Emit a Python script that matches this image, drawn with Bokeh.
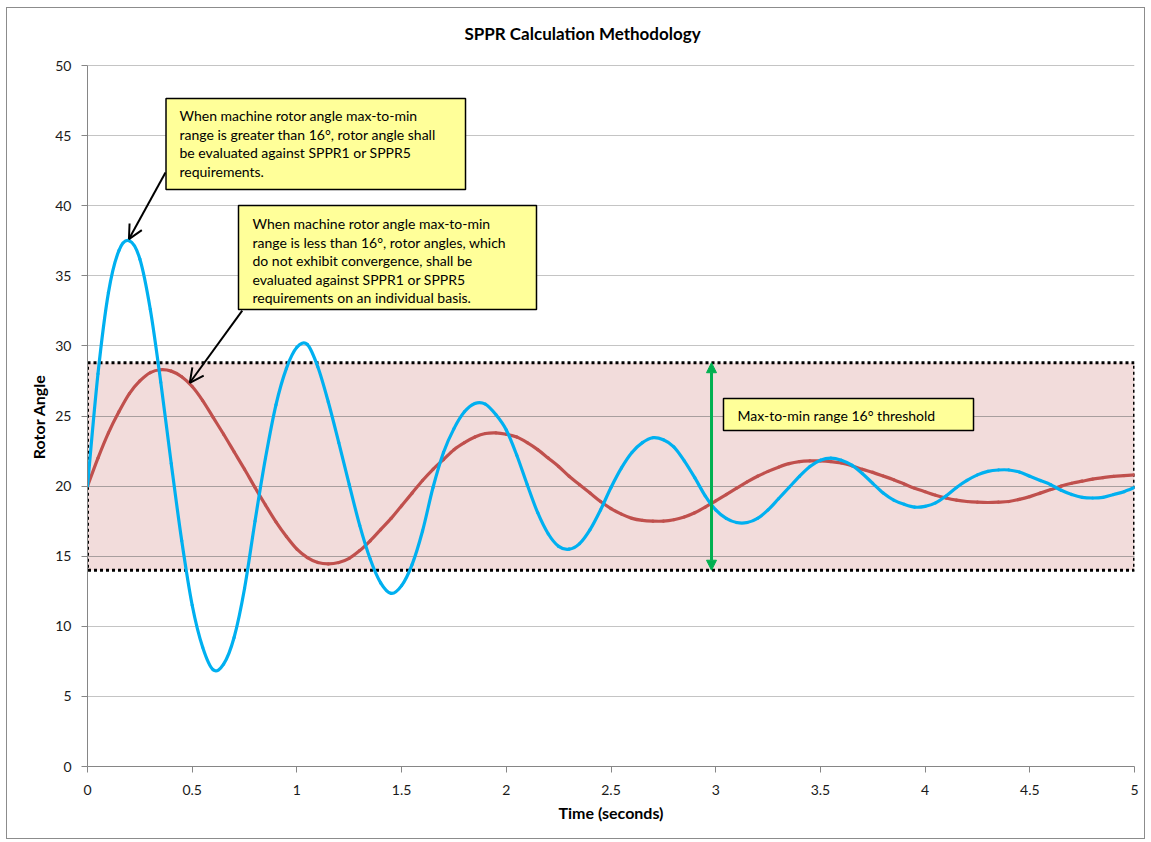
from bokeh.plotting import figure
from bokeh.models import Range1d, Label, Arrow, OpenHead, NormalHead, FixedTicker, BoxAnnotation
from bokeh.embed import file_html
from bokeh.resources import INLINE

# ---------------- data ----------------
time_s = [0.0, 0.05, 0.1, 0.15, 0.2, 0.25, 0.3, 0.35, 0.4, 0.45,
          0.5, 0.55, 0.6, 0.65, 0.7, 0.75, 0.8, 0.85, 0.9, 0.95,
          1.0, 1.05, 1.1, 1.15, 1.2, 1.25, 1.3, 1.35, 1.4, 1.45,
          1.5, 1.55, 1.6, 1.65, 1.7, 1.75, 1.8, 1.85, 1.9, 1.95,
          2.0, 2.05, 2.1, 2.15, 2.2, 2.25, 2.3, 2.35, 2.4, 2.45,
          2.5, 2.55, 2.6, 2.65, 2.7, 2.75, 2.8, 2.85, 2.9, 2.95,
          3.0, 3.05, 3.1, 3.15, 3.2, 3.25, 3.3, 3.35, 3.4, 3.45,
          3.5, 3.55, 3.6, 3.65, 3.7, 3.75, 3.8, 3.85, 3.9, 3.95,
          4.0, 4.05, 4.1, 4.15, 4.2, 4.25, 4.3, 4.35, 4.4, 4.45,
          4.5, 4.55, 4.6, 4.65, 4.7, 4.75, 4.8, 4.85, 4.9, 4.95,
          5.0]

angle_blue = [20.0, 28.0, 33.8, 36.8, 37.5, 36.2, 32.6, 27.4, 21.6, 16.1,
              11.5, 8.5, 6.9, 7.3, 9.2, 12.7, 17.5, 22.0, 25.8, 28.4,
              29.9, 30.1, 28.5, 26.0, 23.1, 20.1, 17.2, 14.8, 13.1, 12.35,
              12.9, 14.4, 16.8, 19.9, 22.4, 24.1, 25.3, 25.9, 25.85, 25.1,
              24.0, 22.2, 20.1, 18.1, 16.6, 15.7, 15.5, 15.9, 16.9, 18.3,
              19.9, 21.3, 22.4, 23.1, 23.45, 23.3, 22.8, 21.8, 20.6, 19.3,
              18.3, 17.7, 17.4, 17.4, 17.7, 18.3, 19.1, 19.9, 20.7, 21.4,
              21.85, 22.0, 21.85, 21.5, 20.9, 20.2, 19.5, 19.0, 18.7, 18.5,
              18.55, 18.8, 19.3, 19.9, 20.4, 20.8, 21.05, 21.15, 21.15, 21.0,
              20.7, 20.4, 20.1, 19.7, 19.4, 19.2, 19.15, 19.2, 19.4, 19.6,
              19.9]

angle_red = [20.0, 22.0, 23.8, 25.3, 26.6, 27.5, 28.1, 28.3, 28.2, 27.8,
             27.1, 26.1, 24.9, 23.7, 22.45, 21.2, 19.9, 18.65, 17.45, 16.4,
             15.5, 14.9, 14.55, 14.45, 14.55, 14.85, 15.4, 16.1, 16.9, 17.7,
             18.6, 19.5, 20.4, 21.2, 21.9, 22.6, 23.1, 23.5, 23.75, 23.8,
             23.7, 23.5, 23.1, 22.6, 22.0, 21.4, 20.7, 20.1, 19.5, 18.9,
             18.4, 18.0, 17.7, 17.55, 17.5, 17.5, 17.6, 17.8, 18.1, 18.5,
             18.95, 19.4, 19.85, 20.3, 20.7, 21.05, 21.35, 21.6, 21.75, 21.8,
             21.8, 21.75, 21.65, 21.45, 21.2, 20.98, 20.72, 20.45, 20.15, 19.85,
             19.6, 19.35, 19.15, 19.0, 18.9, 18.85, 18.83, 18.85, 18.9, 19.05,
             19.25, 19.5, 19.75, 20.0, 20.2, 20.35, 20.5, 20.6, 20.7, 20.75,
             20.8]

band_low = 14.0
band_high = 28.8
band_start = 0.0
band_end = 5.0
threshold_time = 2.98

x_ticks = [0, 0.5, 1, 1.5, 2, 2.5, 3, 3.5, 4, 4.5, 5]
x_tick_labels = ["0", "0.5", "1", "1.5", "2", "2.5", "3", "3.5", "4", "4.5", "5"]
y_ticks = [0, 5, 10, 15, 20, 25, 30, 35, 40, 45, 50]
y_tick_labels = ["0", "5", "10", "15", "20", "25", "30", "35", "40", "45", "50"]
y_axis_max = 50

title_text = "SPPR Calculation Methodology"
x_label = "Time (seconds)"
y_label = "Rotor Angle"
note1_lines = ["When machine rotor angle max-to-min",
               "range is greater than 16\u00b0, rotor angle shall",
               "be evaluated against SPPR1 or SPPR5",
               "requirements."]
note2_lines = ["When machine rotor angle max-to-min",
               "range is less than 16\u00b0, rotor angles, which",
               "do not exhibit  convergence, shall be",
               "evaluated against SPPR1 or SPPR5",
               "requirements on an individual basis."]
note3_text = "Max-to-min range 16\u00b0 threshold"

# ---------------- styling ----------------
FONT = "Lato"
BLUE = "#00b0f0"
RED = "#c0504d"
GREEN = "#00b050"
YELLOW = "#ffff99"
BAND = "#f2dcdb"

# the visible axis runs 0..50; the range extends above it to leave room for the title
view_top = y_axis_max * 750.0 / 701.0

p = figure(width=1139, height=832, x_range=Range1d(0, 5), y_range=Range1d(0, view_top),
           output_backend="svg", toolbar_location=None,
           min_border_left=80, min_border_right=12, min_border_top=8, min_border_bottom=74)
p.styles = {"border": "1px solid #8c8c8c", "margin-left": "6px", "margin-top": "7px"}
p.outline_line_color = None
p.background_fill_color = "white"
p.border_fill_color = "white"

for ax in (p.xaxis[0], p.yaxis[0]):
    ax.axis_line_color = "#868686"
    ax.major_tick_line_color = "#868686"
    ax.major_tick_in = 0
    ax.major_tick_out = 6
    ax.minor_tick_line_color = None
    ax.major_label_text_font = FONT
    ax.major_label_text_font_size = "14px"
    ax.major_label_text_color = "#1a1a1a"
    ax.axis_label_text_font = FONT
    ax.axis_label_text_font_size = "16px"
    ax.axis_label_text_font_style = "bold"
    ax.axis_label_text_color = "black"

p.xaxis.ticker = FixedTicker(ticks=x_ticks)
p.xaxis.major_label_overrides = {t: s for t, s in zip(x_ticks, x_tick_labels)}
p.yaxis.ticker = FixedTicker(ticks=y_ticks)
p.yaxis.major_label_overrides = {t: s for t, s in zip(y_ticks, y_tick_labels)}
p.yaxis.bounds = (0, y_axis_max)
p.xaxis.axis_label = x_label
# trailing no-break spaces re-centre the rotated label on the 0..50 part of the axis
p.yaxis.axis_label = y_label + "\u00a0" * 13
p.xaxis.major_label_standoff = 12
p.yaxis.major_label_standoff = 10
p.xaxis.axis_label_standoff = 5
p.yaxis.axis_label_standoff = 4

p.xgrid.visible = False
p.ygrid.ticker = FixedTicker(ticks=y_ticks)
p.ygrid.grid_line_color = "#c4c4c4"
p.ygrid.grid_line_width = 1

# threshold band
p.quad(left=[band_start], right=[band_end], bottom=[band_low], top=[band_high],
       fill_color=BAND, line_color=None)
inner_grid = [v for v in y_ticks if band_low < v < band_high]
p.hspan(y=inner_grid, line_color="#a89e9e", line_width=1)
p.quad(left=[band_start], right=[band_end], bottom=[band_low], top=[band_high],
       fill_color=None, line_color="black", line_width=3, line_dash="3 3")


# series, drawn as smoothed lines (like Excel's "smoothed line" option):
# cubic Bezier pieces through the read points, control points from neighbours.
def smooth_segments(xs, ys):
    n = len(xs)
    seg = {k: [] for k in ("x0", "y0", "x1", "y1", "cx0", "cy0", "cx1", "cy1")}
    for i in range(n - 1):
        xm, ym = (xs[i - 1], ys[i - 1]) if i > 0 else (xs[i], ys[i])
        xp, yp = (xs[i + 2], ys[i + 2]) if i + 2 < n else (xs[i + 1], ys[i + 1])
        seg["x0"].append(xs[i]); seg["y0"].append(ys[i])
        seg["x1"].append(xs[i + 1]); seg["y1"].append(ys[i + 1])
        seg["cx0"].append(xs[i] + (xs[i + 1] - xm) / 6.0)
        seg["cy0"].append(ys[i] + (ys[i + 1] - ym) / 6.0)
        seg["cx1"].append(xs[i + 1] - (xp - xs[i]) / 6.0)
        seg["cy1"].append(ys[i + 1] - (yp - ys[i]) / 6.0)
    return seg


for series, color in ((angle_red, RED), (angle_blue, BLUE)):
    s = smooth_segments(time_s, series)
    p.bezier(x0=s["x0"], y0=s["y0"], x1=s["x1"], y1=s["y1"],
             cx0=s["cx0"], cy0=s["cy0"], cx1=s["cx1"], cy1=s["cy1"],
             line_color=color, line_width=3.2, line_cap="round")

# green double arrow (threshold range)
p.add_layout(Arrow(x_start=threshold_time, y_start=band_low, x_end=threshold_time, y_end=band_high,
                   line_color=GREEN, line_width=3,
                   start=NormalHead(size=10, fill_color=GREEN, line_color=GREEN),
                   end=NormalHead(size=10, fill_color=GREEN, line_color=GREEN)))

# callout arrows (annotation positions)
p.add_layout(Arrow(x_start=0.3725, y_start=42.37, x_end=0.198, y_end=37.62,
                   line_color="black", line_width=2,
                   end=OpenHead(size=14, line_color="black", line_width=2)))
p.add_layout(Arrow(x_start=0.739, y_start=32.52, x_end=0.4885, y_end=27.37,
                   line_color="black", line_width=2,
                   end=OpenHead(size=14, line_color="black", line_width=2)))


# callout boxes
def box(left, right, top, bottom):
    p.add_layout(BoxAnnotation(left=left, right=right, top=top, bottom=bottom,
                               fill_color=YELLOW, fill_alpha=1.0,
                               line_color="black", line_width=1.5, line_alpha=1.0))


def lines(x, ys, texts):
    for yy, tt in zip(ys, texts):
        p.add_layout(Label(x=x, y=yy, text=tt, text_font=FONT, text_font_size="14px",
                           text_color="black", text_baseline="middle", text_align="left"))


box(0.3749, 1.8052, 47.646, 41.155)
lines(0.4394, [46.43, 45.11, 43.79, 42.47], note1_lines)
box(0.7211, 2.1442, 40.014, 32.596)
lines(0.7880, [38.73, 37.41, 36.09, 34.77, 33.45], note2_lines)
box(3.0372, 4.2312, 26.248, 23.966)
lines(3.1041, [25.04], [note3_text])

# chart title (above the 0..50 axis)
p.add_layout(Label(x=2.364, y=52.28, text=title_text, text_font=FONT, text_font_size="17px",
                   text_font_style="bold", text_color="black",
                   text_align="center", text_baseline="middle"))

open("out.html", "w").write(file_html(p, INLINE))
